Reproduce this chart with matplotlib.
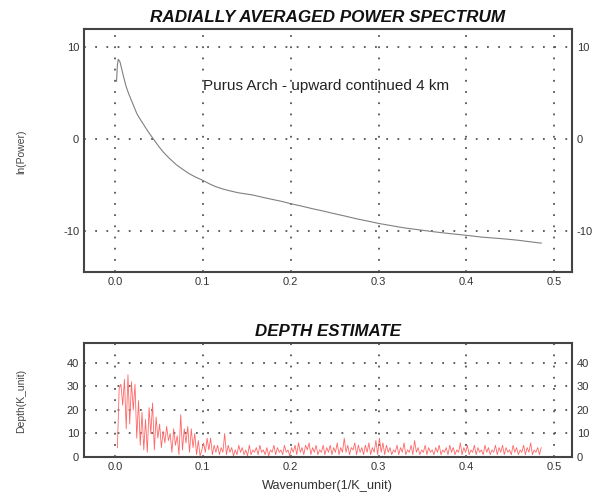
import numpy as np
import matplotlib
matplotlib.use("Agg")
import matplotlib.pyplot as plt

plt.rcParams['font.family'] = ['Liberation Sans', 'DejaVu Sans']

# ---- Data: radially averaged power spectrum ----
power_x = [0.002, 0.003, 0.004, 0.006, 0.008, 0.010, 0.013, 0.016, 0.019, 0.022,
           0.025, 0.028, 0.032, 0.038, 0.044, 0.050, 0.055, 0.062, 0.070, 0.078,
           0.085, 0.092, 0.100, 0.108, 0.115, 0.123, 0.131, 0.140, 0.150, 0.157,
           0.168, 0.180, 0.190, 0.200, 0.212, 0.225, 0.237, 0.248, 0.262, 0.275,
           0.288, 0.300, 0.315, 0.330, 0.346, 0.362, 0.380, 0.400, 0.418, 0.438,
           0.450, 0.460, 0.472, 0.485]
power_y = [6.3, 8.1, 8.7, 8.4, 7.6, 6.8, 5.7, 4.9, 4.2, 3.5,
           2.8, 2.3, 1.7, 0.8, 0.0, -0.8, -1.4, -2.1, -2.8, -3.35,
           -3.8, -4.15, -4.5, -4.9, -5.2, -5.45, -5.65, -5.85, -6.0, -6.1,
           -6.35, -6.6, -6.8, -7.05, -7.3, -7.6, -7.85, -8.1, -8.4, -8.7,
           -8.95, -9.2, -9.45, -9.7, -9.9, -10.1, -10.3, -10.5, -10.7, -10.85,
           -10.95, -11.05, -11.2, -11.35]

# ---- Data: depth estimate ----
depth = [4, 29, 31, 22, 33, 12, 35, 14, 32, 20,
         31, 8, 24, 5, 19, 3, 16, 2, 21, 10,
         23, 3, 17, 8, 14, 4, 11, 6, 13, 7,
         10, 2, 12, 5, 9, 1, 18, 3, 12, 6,
         13, 2, 12, 4, 10, 1, 7, 0.5, 3, 6,
         2, 8, 3, 8, 1, 5, 2, 5, 1, 4,
         2, 10, 1, 5, 2, 4, 0.5, 3, 1, 5,
         2, 4, 1, 3, 0.5, 5, 1, 3, 2, 4,
         1, 5, 2, 3, 1, 4, 0.5, 3, 2, 5,
         1, 4, 2, 3, 1, 5, 2, 3, 0.5, 4,
         2, 5, 1, 6, 2, 4, 1, 5, 3, 6,
         1, 4, 2, 5, 1, 3, 2, 5, 1, 4,
         2, 5, 1, 4, 2, 6, 1, 4, 2, 8,
         2, 5, 1, 4, 3, 6, 1, 5, 2, 4,
         1, 5, 2, 6, 1, 4, 2, 7, 1, 8,
         2, 6, 1, 5, 2, 4, 1, 3, 2, 5,
         1, 4, 2, 6, 1, 3, 2, 5, 1, 7,
         2, 4, 1, 3, 2, 5, 1, 4, 2, 3,
         1, 4, 2, 5, 1, 3, 2, 4, 1, 5,
         2, 4, 1, 3, 2, 6, 1, 4, 2, 5,
         1, 3, 2, 5, 1, 4, 2, 3, 1, 5,
         2, 4, 1, 3, 2, 5, 1, 4, 2, 5,
         1, 4, 2, 3, 1, 5, 2, 4, 1, 3,
         2, 5, 1, 4, 2, 6, 1, 3, 2, 4,
         1, 4]
depth_x = np.linspace(0.003, 0.485, len(depth))

x_ticks = [0.0, 0.1, 0.2, 0.3, 0.4, 0.5]
x_ticklabels = ["0.0", "0.1", "0.2", "0.3", "0.4", "0.5"]
power_yticks = [-10, 0, 10]
depth_yticks = [0, 10, 20, 30, 40]

fig = plt.figure(figsize=(5.97, 4.97), dpi=100)
ax1 = fig.add_axes([0.1407, 0.4527, 0.8174, 0.4889])
ax2 = fig.add_axes([0.1407, 0.0805, 0.8174, 0.2294])

grid_kw = dict(color='#555555', linewidth=1.3, linestyle=(0, (1, 5.2)))
spine_c = '#444444'
tick_c = '#333333'

for ax in (ax1, ax2):
    ax.set_xlim(-0.035, 0.52)
    ax.set_xticks(x_ticks)
    ax.set_xticklabels(x_ticklabels)
    ax.grid(True, **grid_kw)
    ax.set_axisbelow(True)
    for s in ax.spines.values():
        s.set_color(spine_c)
        s.set_linewidth(1.5)
    ax.tick_params(axis='both', length=0, labelsize=8, labelcolor=tick_c,
                   pad=3.5)
    ax.tick_params(axis='y', labelright=True, labelleft=True)

ax1.plot(power_x, power_y, color='#808080', linewidth=0.8)
ax1.set_ylim(-14.5, 12)
ax1.set_yticks(power_yticks)
ax1.set_yticklabels([str(v) for v in power_yticks])
ax1.text(0.1, 5.8, "Purus Arch - upward continued 4 km", fontsize=11,
         color='#222222', ha='left', va='center')
ax1.set_title("RADIALLY AVERAGED POWER SPECTRUM", fontsize=12.3,
              fontweight='bold', fontstyle='italic', color='#111111', pad=5)

ax2.plot(depth_x, depth, color='#ff6666', linewidth=0.6)
ax2.set_ylim(0, 48.5)
ax2.set_yticks(depth_yticks)
ax2.set_yticklabels([str(v) for v in depth_yticks])
ax2.set_title("DEPTH ESTIMATE", fontsize=12.2, fontweight='bold',
              fontstyle='italic', color='#111111', pad=5)

fig.text(21 / 597, 1 - 152 / 497, "ln(Power)", rotation=90, fontsize=7.5,
         color='#444444', ha='center', va='center')
fig.text(21 / 597, 1 - 401 / 497, "Depth(K_unit)", rotation=90, fontsize=7.5,
         color='#444444', ha='center', va='center')
fig.text(327 / 597, 1 - 486 / 497, "Wavenumber(1/K_unit)", fontsize=9.2,
         color='#333333', ha='center', va='center')

fig.savefig("out.png", dpi=100)
